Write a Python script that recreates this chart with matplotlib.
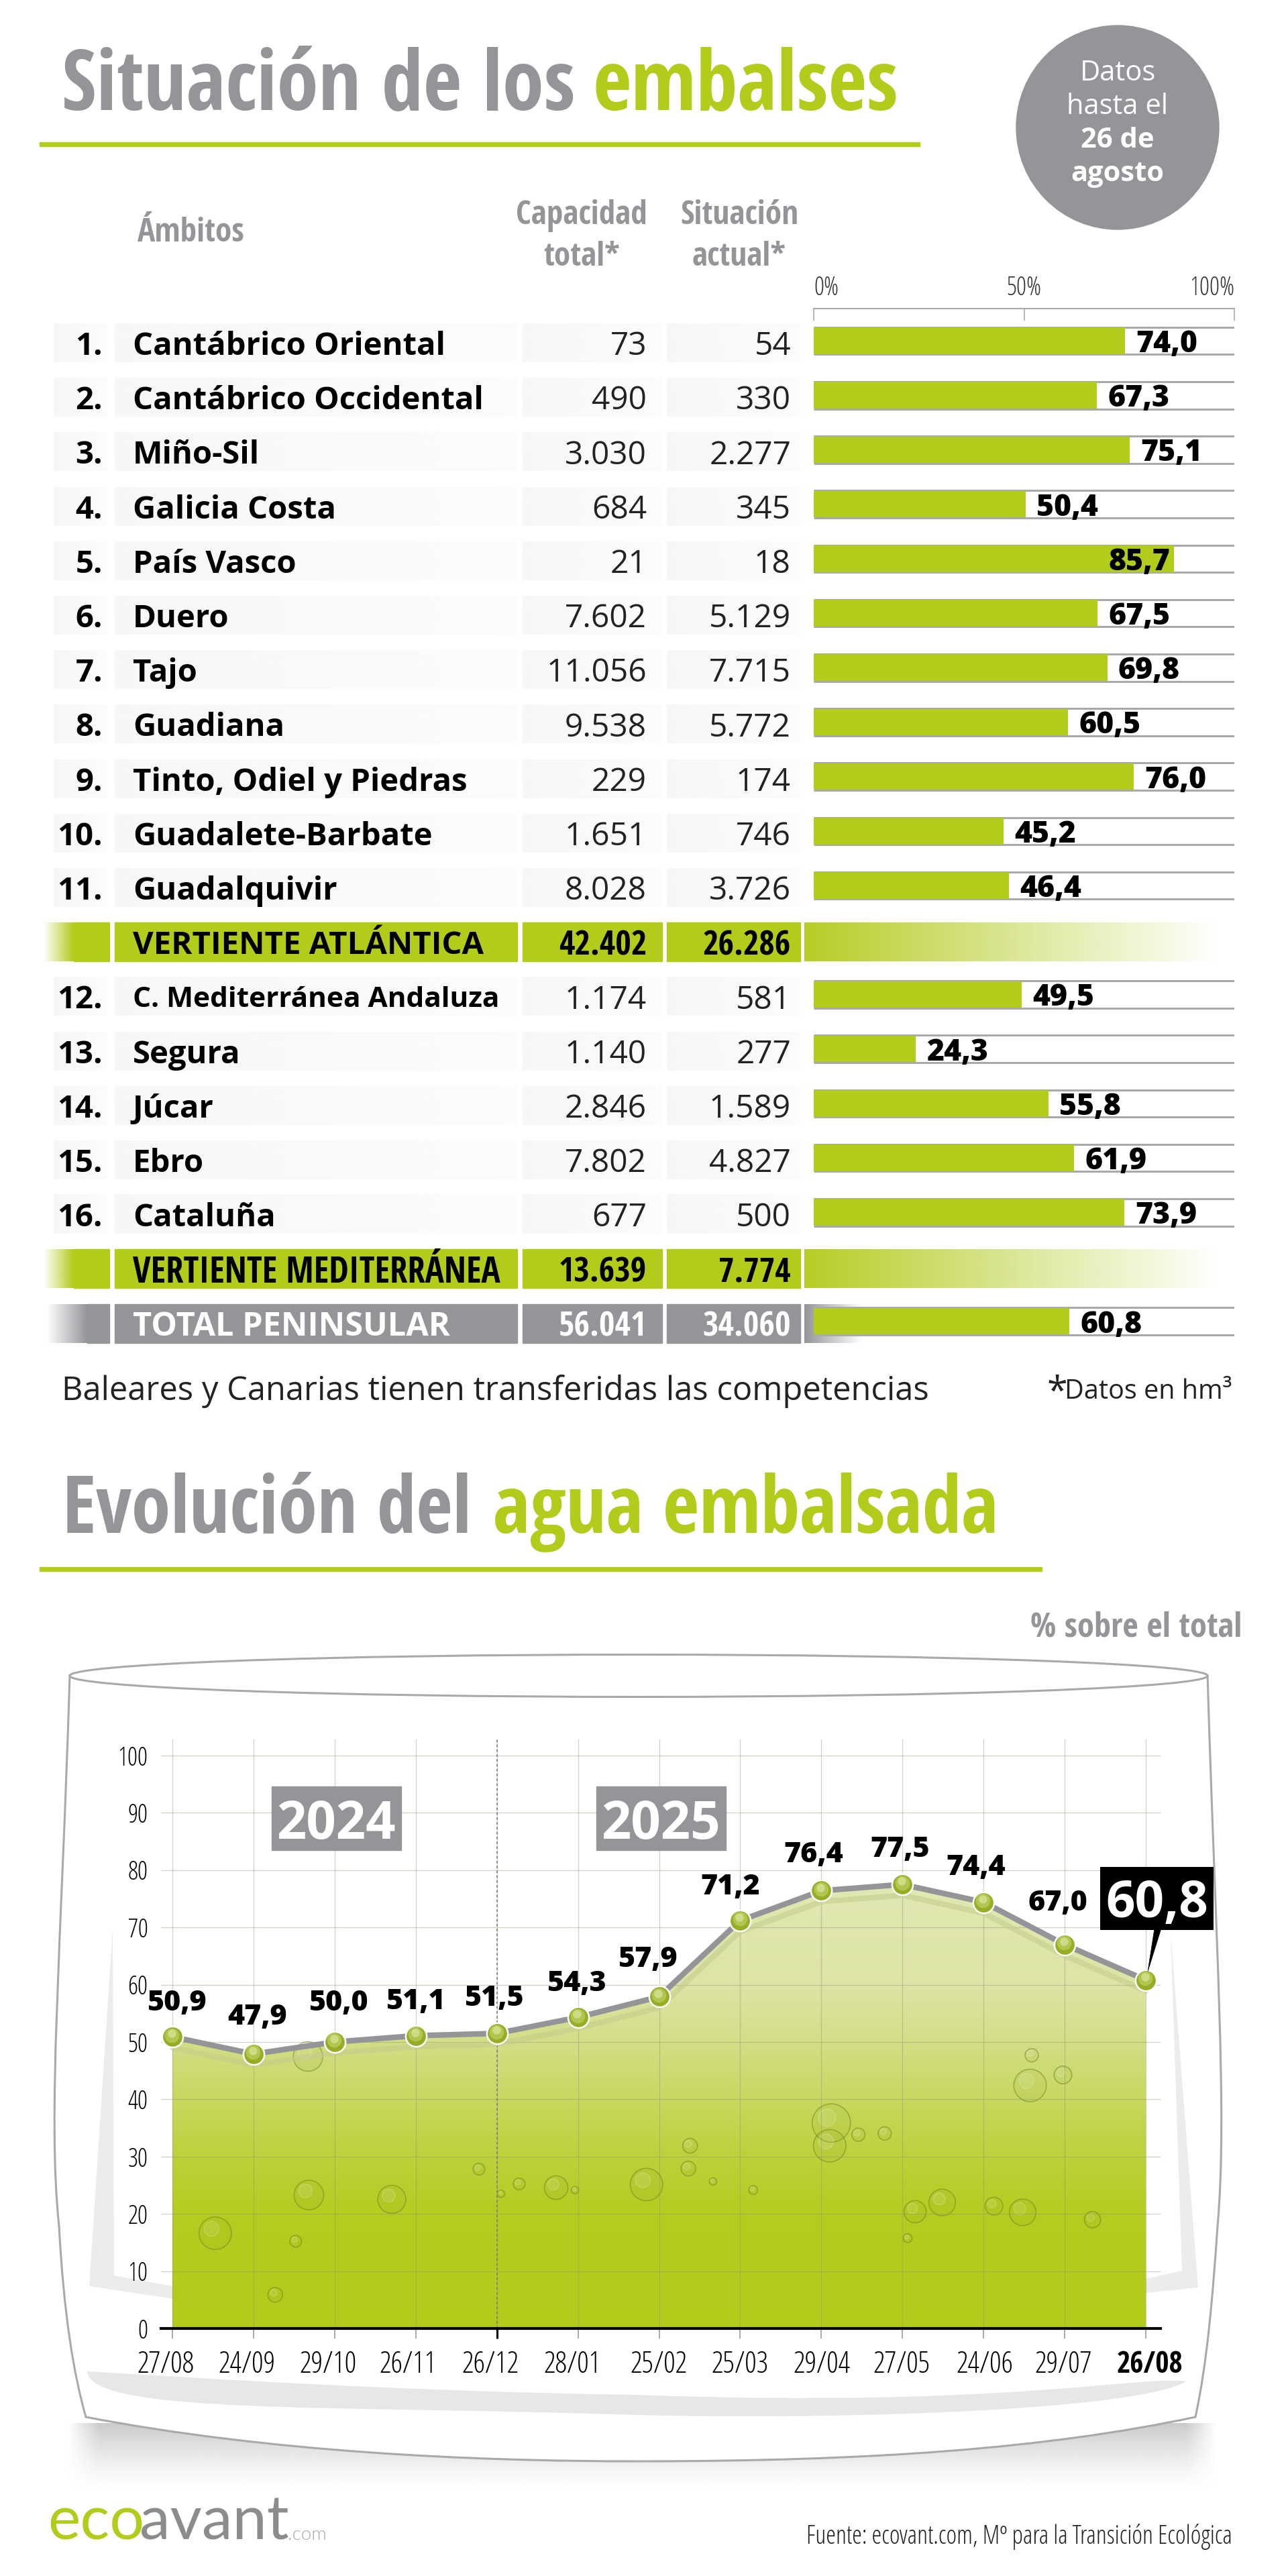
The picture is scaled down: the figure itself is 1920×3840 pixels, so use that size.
import matplotlib
matplotlib.use('Agg')
import matplotlib.pyplot as plt
import numpy as np
from matplotlib.colors import to_rgb
from matplotlib.patches import Circle, Ellipse, PathPatch, Polygon, Rectangle
from matplotlib.path import Path
from matplotlib.transforms import ScaledTranslation, offset_copy

# tabla de embalses
ambitos = ['Cantábrico Oriental', 'Cantábrico Occidental', 'Miño-Sil', 'Galicia Costa', 'País Vasco',
           'Duero', 'Tajo', 'Guadiana', 'Tinto, Odiel y Piedras', 'Guadalete-Barbate', 'Guadalquivir',
           'C. Mediterránea Andaluza', 'Segura', 'Júcar', 'Ebro', 'Cataluña']
capacidad = [73, 490, 3030, 684, 21, 7602, 11056, 9538, 229, 1651, 8028, 1174, 1140, 2846, 7802, 677]
actual = [54, 330, 2277, 345, 18, 5129, 7715, 5772, 174, 746, 3726, 581, 277, 1589, 4827, 500]
porcentaje = [74.0, 67.3, 75.1, 50.4, 85.7, 67.5, 69.8, 60.5, 76.0, 45.2, 46.4, 49.5, 24.3, 55.8, 61.9, 73.9]

grupos = ['VERTIENTE ATLÁNTICA', 'VERTIENTE MEDITERRÁNEA']
grupos_cap = [42402, 13639]
grupos_act = [26286, 7774]
total_cap = 56041
total_act = 34060
total_pct = 60.8

# evolucion
fechas = ['27/08', '24/09', '29/10', '26/11', '26/12', '28/01', '25/02', '25/03', '29/04', '27/05', '24/06', '29/07', '26/08']
agua = [50.9, 47.9, 50.0, 51.1, 51.5, 54.3, 57.9, 71.2, 76.4, 77.5, 74.4, 67.0, 60.8]

VERDE = '#b3cb1b'
GRIS = '#939598'

plt.rcParams['font.family'] = ['Open Sans', 'DejaVu Sans']
CB = dict(family='Open Sans Condensed', fontweight='bold')
CL = dict(family='Open Sans', fontstretch='condensed', fontweight=300)
OB = dict(family='Open Sans', fontweight='bold')
OX = dict(family='Open Sans', fontweight=800)
OR = dict(family='Open Sans', fontweight='normal')


def num(v):
    return f'{v:,}'.replace(',', '.')


def pct(v):
    return f'{v:.1f}'.replace('.', ',')


fig = plt.figure(figsize=(19.2, 38.4), dpi=100, facecolor='white')
bg = fig.add_axes([0, 0, 1, 1], zorder=0)
bg.axis('off')


def grad(x0, x1, y0, y1, color, a0, a1, vertical=False, zorder=1):
    img = np.ones((1, 128, 4)) if not vertical else np.ones((128, 1, 4))
    img[..., :3] = to_rgb(color)
    ramp = np.linspace(a0, a1, 128)
    if vertical:
        img[:, 0, 3] = ramp
    else:
        img[0, :, 3] = ramp
    bg.imshow(img, extent=(x0, x1, y1, y0), aspect='auto', zorder=zorder, interpolation='bilinear')


def label(x, y, s, size, color, font, ha='left'):
    return bg.text(x, y, s, fontsize=size, color=color, ha=ha, va='center_baseline', zorder=5, **font)


# titulos
label(92, 117, 'Situación de los', 90, GRIS, CB)
label(884, 117, 'embalses', 90, VERDE, CB)
bg.add_patch(Rectangle((59, 212), 1312, 6, color=VERDE, zorder=2))
label(93, 2240, 'Evolución del', 85, GRIS, CB)
label(735, 2240, 'agua embalsada', 85, VERDE, CB)
bg.add_patch(Rectangle((59, 2336), 1494, 6, color=VERDE, zorder=2))

# circulo fecha
bg.add_patch(Ellipse((1666, 190), 302, 304, color=GRIS, zorder=2))
label(1666, 104, 'Datos', 30, 'white', OR, ha='center')
label(1666, 154, 'hasta el', 30, 'white', OR, ha='center')
label(1666, 204, '26 de', 30, 'white', OB, ha='center')
label(1666, 254, 'agosto', 30, 'white', OB, ha='center')

# cabecera
label(205, 342, 'Ámbitos', 35.5, GRIS, CB)
label(867, 315, 'Capacidad', 35.5, GRIS, CB, ha='center')
label(867, 377, 'total*', 35.5, GRIS, CB, ha='center')
label(1102, 315, 'Situación', 35.5, GRIS, CB, ha='center')
label(1102, 377, 'actual*', 35.5, GRIS, CB, ha='center')

# filas
Y0 = 511
DY = 81.2
filas = list(range(11)) + list(range(12, 17))
COLS = [(80, 160), (171, 771), (779, 987), (994, 1193)]


def row_y(i):
    return Y0 + DY * i


for k, i in enumerate(filas):
    y = row_y(i)
    for x0, x1 in COLS:
        grad(x0, x1, y - 29, y + 29, '#f1f1f2', 0.55, 0.2)
    label(153, y, f'{k + 1}.', 34, 'black', OB, ha='right')
    size = 30.5 if ambitos[k].startswith('C. Med') else 34
    label(198, y, ambitos[k], size, 'black', OB)
    label(964, y, num(capacidad[k]), 34.5, '#222222', OR, ha='right')
    label(1179, y, num(actual[k]), 34.5, '#222222', OR, ha='right')

for j, i in enumerate([11, 17]):
    y = row_y(i)
    grad(65, 110, y - 29, y + 29, VERDE, 0, 1)
    bg.add_patch(Rectangle((110, y - 29), 53, 58, color=VERDE, zorder=1))
    for x0, x1 in COLS[1:]:
        bg.add_patch(Rectangle((x0, y - 29), x1 - x0, 58, color=VERDE, zorder=1))
    grad(1199, 1815, y - 29, y + 29, VERDE, 0.95, 0)
    if j == 0:
        label(198, y, grupos[j], 34, 'black', OB)
    else:
        label(198, y, grupos[j], 38, 'black', CB)
    label(964, y, num(grupos_cap[j]), 36.5, 'black', CB, ha='right')
    label(1179, y, num(grupos_act[j]), 36.5, 'black', CB, ha='right')

y = row_y(18)
grad(70, 130, y - 29, y + 29, GRIS, 0, 1)
bg.add_patch(Rectangle((130, y - 29), 33, 58, color=GRIS, zorder=1))
for x0, x1 in COLS[1:]:
    bg.add_patch(Rectangle((x0, y - 29), x1 - x0, 58, color=GRIS, zorder=1))
grad(1199, 1285, y - 29, y + 29, GRIS, 1, 0)
label(198, y, 'TOTAL PENINSULAR', 35, 'white', OB)
label(964, y, num(total_cap), 36.5, 'white', CB, ha='right')
label(1179, y, num(total_act), 36.5, 'white', CB, ha='right')

label(92, 2068, 'Baleares y Canarias tienen transferidas las competencias', 35.2, '#222222', OR)
label(1561, 2070, '*', 40, '#222222', OR)
label(1587, 2070, 'Datos en hm³', 28.5, '#222222', OR)

# barras
ax_left, ax_right, ax_top, ax_bot = 1213, 1840, 460, 2000
ax = fig.add_axes([ax_left / 1920, 1 - ax_bot / 3840, (ax_right - ax_left) / 1920, (ax_bot - ax_top) / 3840], zorder=2)
ax.patch.set_alpha(0)
ax.set_xlim(0, 100)
ax.set_ylim((ax_bot - 508) / DY, (ax_top - 508) / DY)
pos = filas + [18]
vals = porcentaje + [total_pct]
ax.hlines([p - 0.25 for p in pos] + [p + 0.25 for p in pos], 0, 100, color='#a7a9ac', lw=2.2, zorder=1)
ax.barh(pos, vals, height=0.49, color=VERDE, zorder=2)
for p, v in zip(pos, vals):
    if v > 80:
        ax.text(v - 1, p, pct(v), ha='right', va='center_baseline', fontsize=32, zorder=3, **OX)
    else:
        ax.text(v + 2.6, p, pct(v), ha='left', va='center_baseline', fontsize=32, zorder=3, **OX)
for s in ['left', 'right', 'bottom']:
    ax.spines[s].set_visible(False)
ax.spines['top'].set_color('#a7a9ac')
ax.spines['top'].set_linewidth(1.5)
ax.set_yticks([])
ax.xaxis.tick_top()
ax.set_xticks([0, 50, 100])
ax.set_xticklabels(['0%', '50%', '100%'], fontsize=27, color='#333333', **CL)
ax.tick_params(axis='x', direction='in', length=13, width=1.2, color='#a7a9ac', pad=8)
for t, ha in zip(ax.get_xticklabels(), ['left', 'center', 'right']):
    t.set_ha(ha)

# vaso
label(1851, 2420, '% sobre el total', 36.5, GRIS, CB, ha='right')
sy = np.linspace(1, 0, 100) ** 1.4 * 0.62
sx = np.clip(np.minimum(np.linspace(0, 1702, 400), np.linspace(1702, 0, 400)) / 45, 0, 1)
shadow = np.ones((100, 400, 4))
shadow[..., :3] = to_rgb('#a9aaac')
shadow[..., 3] = np.outer(sy, sx)
bg.imshow(shadow, extent=(100, 1815, 3715, 3612), aspect='auto', zorder=1, interpolation='bilinear')

body = Path([(104, 2496), (92, 2900), (70, 3150), (88, 3318), (95, 3450), (110, 3540), (128, 3603),
             (400, 3655), (700, 3669), (950, 3669), (1300, 3669), (1560, 3650), (1782, 3603),
             (1800, 3520), (1808, 3420), (1815, 3318), (1830, 3150), (1812, 2900), (1800, 2496)],
            [Path.MOVETO] + [Path.CURVE4] * 18)
bg.add_patch(PathPatch(body, fc='white', ec='#a8a9ab', lw=2.2, zorder=2))
bg.add_patch(Ellipse((952, 2498), 1696, 63, fc='white', ec='#a8a9ab', lw=2.2, zorder=2))
streak = Path([(130, 3535), (135, 3600), (500, 3585), (950, 3600), (1300, 3608), (1700, 3590), (1768, 3550),
               (1700, 3540), (1500, 3590), (950, 3570), (600, 3565), (300, 3545), (130, 3535)],
              [Path.MOVETO] + [Path.CURVE4] * 12)
bg.add_patch(PathPatch(streak, fc='#e6e7e8', ec='none', zorder=3))
bg.add_patch(Polygon([(168, 2875), (133, 3408), (360, 3442), (350, 3425), (170, 3392)], fc='#ebeced', ec='none', zorder=3))
bg.add_patch(Polygon([(1745, 2880), (1786, 3410), (1640, 3425), (1650, 3410), (1762, 3385)], fc='#ebeced', ec='none', zorder=3))

bg.set_xlim(0, 1920)
bg.set_ylim(3840, 0)

# evolucion
cx0, cx1, cy0, cy1 = 240, 1730, 2593, 3471
chart = fig.add_axes([cx0 / 1920, 1 - cy1 / 3840, (cx1 - cx0) / 1920, (cy1 - cy0) / 3840], zorder=3)
chart.patch.set_alpha(0)
xs = np.arange(len(agua))

stops_y = [0, 20, 30, 40, 50, 60, 80]
stops_c = np.array([to_rgb(c) for c in [VERDE, '#b5cc20', '#bdd13b', '#c8d85f', '#d3de86', '#dde4a5', '#e2e8b4']])
gy = np.linspace(0, 80, 200)
gimg = np.stack([np.interp(gy, stops_y, stops_c[:, i]) for i in range(3)], axis=1)[:, None, :]
poly = chart.fill_between(xs, 0, agua, color='none', lw=0)
im = chart.imshow(gimg, origin='lower', extent=(0, 12, 0, 80), aspect='auto', zorder=1)
im.set_clip_path(poly.get_paths()[0], transform=chart.transData)
chart.set_xlim(-17 / 121, 12 + 22 / 121)
chart.set_ylim(0, 102.8)

bubbles = [(262, 1012, 22), (376, 950, 20), (360, 1025, 8), (477, 957, 19), (375, 725, 20), (583, 908, 8),
           (632, 932, 8), (677, 938, 16), (787, 933, 22), (838, 907, 10), (840, 870, 10), (1012, 833, 26),
           (1010, 870, 22), (1045, 852, 9), (1077, 850, 9), (1147, 962, 18), (1114, 977, 15), (1210, 968, 12),
           (1245, 978, 18), (1330, 990, 11), (1254, 772, 22), (1294, 755, 12), (1256, 723, 9), (1105, 1020, 6),
           (917, 942, 6), (868, 928, 5), (610, 948, 5), (700, 942, 5), (335, 1112, 10)]
for bx, by, br in bubbles:
    c = (bx * 1.2245, 2400 + by * 0.918)
    chart.add_patch(Circle(c, br * 1.1, transform=bg.transData, fc=(0.49, 0.58, 0.16, 0.07),
                           ec=(0.42, 0.52, 0.12, 0.5), lw=1.2, zorder=2, clip_on=False))
    chart.add_patch(Circle((c[0] - br * 0.25, c[1] - br * 0.3), br * 0.5, transform=bg.transData,
                           fc=(1, 1, 1, 0.1), ec=(1, 1, 1, 0.25), lw=0.8, zorder=2, clip_on=False))

chart.set_yticks(range(0, 101, 10))
chart.set_xticks(xs)
chart.grid(True, color='#8f9478', lw=0.9, alpha=0.42, zorder=3)
chart.set_axisbelow(False)
chart.axvline(4, color='#7f8183', lw=1.3, ls=(0, (2, 2)), zorder=3)
for s in ['left', 'right', 'top']:
    chart.spines[s].set_visible(False)
chart.spines['bottom'].set_linewidth(3)
chart.spines['bottom'].set_zorder(6)
chart.tick_params(axis='y', length=0, pad=14)
chart.tick_params(axis='x', length=11, width=1.2, color='#9a9b9d', pad=12)
chart.set_xticklabels(fechas, fontsize=31.5, color='black', **CL)
chart.set_yticklabels(range(0, 101, 10), fontsize=27, color='black', **CL)
chart.get_xticklines()[8].set_markeredgecolor('black')
chart.get_xticklines()[8].set_markeredgewidth(2.2)
lab_shift = [-10, -10, -10, -12, -10, -9, -1, 0, 1, -1, 2, -2, 6]
for t, dx in zip(chart.get_xticklabels(), lab_shift):
    t.set_transform(t.get_transform() + ScaledTranslation(dx / 100, 0, fig.dpi_scale_trans))
last = chart.get_xticklabels()[-1]
last.set_fontweight('bold')
last.set_fontfamily('Open Sans Condensed')
last.set_color('black')

chart.plot(xs, np.array(agua) - 1.9, color='#c4cb8d', lw=6, alpha=0.55, zorder=4, solid_capstyle='round')
chart.plot(xs, agua, color=GRIS, lw=6, zorder=5)
chart.plot(xs, agua, 'o', ms=22.5, mfc='#98ac26', mec='white', mew=1.8, zorder=6)
mid = offset_copy(chart.transData, fig=fig, x=-0.5, y=1.8, units='points')
chart.plot(xs, agua, 'o', ms=15.5, mfc='#b3c54e', mec='none', zorder=7, transform=mid)
hi = offset_copy(chart.transData, fig=fig, x=-0.8, y=3.5, units='points')
chart.plot(xs, agua, 'o', ms=9, mfc='#cfdc85', mec='none', zorder=7, transform=hi)

lab_dx = [6, 6, 6, 0, -4, -2, -17, -15, -12, -4, -11, -10]
lab_dy = [50, 55, 58, 51, 52, 50, 55, 50, 53, 52, 52, 62]
for x, v, dx, dy in zip(xs, agua, lab_dx, lab_dy):
    chart.annotate(pct(v), (x, v), xytext=(dx * 0.72, dy * 0.72), textcoords='offset points', ha='center',
                   va='center', fontsize=31, zorder=8, **OX)

for x0, s in [(405, '2024'), (889, '2025')]:
    chart.add_patch(Rectangle((x0, 2663), 193, 95, transform=bg.transData, color=GRIS, zorder=3, clip_on=False))
    chart.text(x0 + 96, 2711, s, transform=bg.transData, ha='center', va='center_baseline', color='white',
               fontsize=56, zorder=8, **OB)

# destacado ultimo dato
chart.annotate('', xy=(12, agua[-1]), xytext=(1727, 2870), textcoords=bg.transData, zorder=7,
               arrowprops=dict(arrowstyle='wedge,tail_width=0.75', fc='black', ec='black', lw=0.5, shrinkA=0, shrinkB=10))
chart.add_patch(Rectangle((1640, 2783), 169, 94, transform=bg.transData, fc='black', ec='none', zorder=8, clip_on=False))
chart.text(1724.5, 2830, pct(agua[-1]), transform=bg.transData, ha='center', va='center_baseline', color='white',
           fontsize=55, zorder=9, clip_on=False, **OB)

# pie
bg.text(71, 3786, 'eco', fontsize=66, family='Lato', fontweight=400, color=VERDE, va='baseline', zorder=5)
bg.text(208, 3786, 'avant', fontsize=66, family='Lato', fontweight=400, color='#8a8c8e', va='baseline', zorder=5)
bg.text(429, 3786, '.com', fontsize=20, family='Lato', fontweight=300, color='#a7a9ac', va='baseline', zorder=5)
label(1837, 3777, 'Fuente: ecovant.com, Mº para la Transición Ecológica', 27, '#222222', CL, ha='right')

fig.savefig('out.png', dpi=100, facecolor='white')
